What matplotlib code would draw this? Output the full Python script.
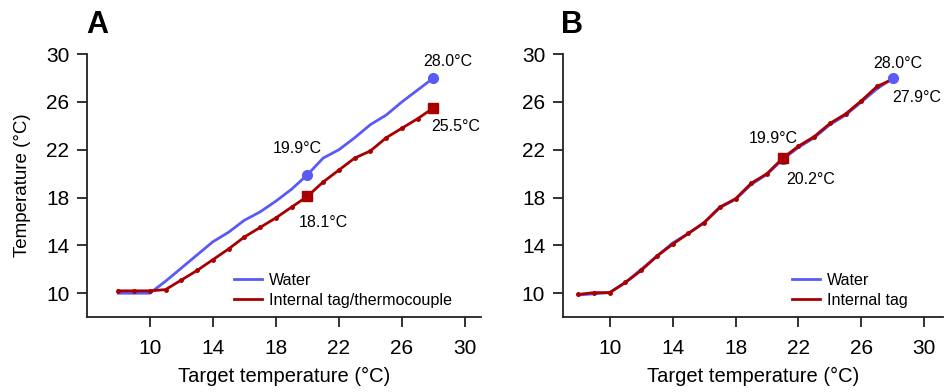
import numpy as np
import matplotlib
matplotlib.use('Agg')
import matplotlib.pyplot as plt

plt.rcParams['font.family'] = ['Liberation Sans', 'DejaVu Sans']

# target temperature (°C)
target = [8, 9, 10, 11, 12, 13, 14, 15, 16, 17, 18, 19, 20, 21, 22, 23, 24, 25, 26, 27, 28]

# panel A: water vs internal tag/thermocouple
water_a = [10.0, 10.0, 10.0, 11.0, 12.1, 13.2, 14.3, 15.1, 16.1, 16.8, 17.7, 18.7, 19.9,
           21.3, 22.0, 23.0, 24.1, 24.9, 26.0, 27.0, 28.0]
tag_a = [10.2, 10.2, 10.2, 10.3, 11.1, 11.9, 12.8, 13.7, 14.7, 15.5, 16.3, 17.2, 18.1,
         19.3, 20.3, 21.3, 21.9, 23.0, 23.8, 24.6, 25.5]

# panel B: water vs internal tag
water_b = [9.85, 9.95, 10.05, 10.9, 12.0, 13.1, 14.2, 15.0, 15.9, 17.15, 17.85, 19.1, 19.95,
           21.2, 22.2, 23.0, 24.1, 24.9, 26.0, 27.1, 28.0]
tag_b = [9.9, 10.05, 10.05, 10.9, 11.9, 13.1, 14.1, 15.0, 15.9, 17.2, 17.9, 19.2, 20.0,
         21.3, 22.3, 23.1, 24.2, 25.0, 26.1, 27.3, 27.9]

blue = '#5a5af6'
red = '#a80000'
ticks = [10, 14, 18, 22, 26, 30]

fig = plt.figure(figsize=(9.47, 3.92), dpi=100)
ax_a = fig.add_axes([0.0916, 0.191, 0.416, 0.671])
ax_b = fig.add_axes([0.594, 0.191, 0.402, 0.671])


def style(ax, xlim):
    ax.set_xlim(*xlim)
    ax.set_ylim(8, 30)
    ax.set_xticks(ticks)
    ax.set_yticks(ticks)
    for s in ['top', 'right']:
        ax.spines[s].set_visible(False)
    for s in ['left', 'bottom']:
        ax.spines[s].set_linewidth(1.3)
        ax.spines[s].set_color('#222222')
    ax.tick_params(length=7.5, width=1.3, labelsize=15, color='#222222')
    ax.tick_params(axis='y', pad=5)
    ax.tick_params(axis='x', pad=8)
    ax.set_xlabel('Target temperature (°C)', fontsize=14.5, labelpad=7)


def draw(ax, water, tag, idx, tag_label):
    ax.plot(target, water, color=blue, lw=2, zorder=2, label='Water')
    ax.plot(target, tag, color=red, lw=2, zorder=3, label=tag_label)
    ax.plot(target, tag, 'o', color=red, ms=2.5, zorder=3)
    for i in idx:
        ax.plot(target[i], water[i], 'o', color=blue, ms=7, zorder=4)


def note(ax, x, y, txt, dx, dy):
    ax.annotate(txt, xy=(x, y), xytext=(dx, dy), textcoords='offset pixels',
                ha='center', va='center', fontsize=11.5)


def legend(ax, xa):
    ax.legend(loc='lower right', bbox_to_anchor=(xa, -0.02), frameon=False, fontsize=11.6,
              handlelength=1.75, handletextpad=0.45, labelspacing=0.3)


# panel A
style(ax_a, (6, 31))
draw(ax_a, water_a, tag_a, [12, 20], 'Internal tag/thermocouple')
for i in [12, 20]:
    ax_a.plot(target[i], tag_a[i], 's', color=red, ms=7, zorder=5)
ax_a.set_ylabel('Temperature (°C)', fontsize=13.5, labelpad=11)
note(ax_a, target[20], water_a[20], '%.1f°C' % water_a[20], 14, 17)
note(ax_a, target[20], tag_a[20], '%.1f°C' % tag_a[20], 22, -19)
note(ax_a, target[12], water_a[12], '%.1f°C' % water_a[12], -10, 26)
note(ax_a, target[12], tag_a[12], '%.1f°C' % tag_a[12], 16, -26)
legend(ax_a, 0.964)
fig.text(0.103, 0.936, 'A', fontsize=22, fontweight='bold', ha='center', va='center')

# panel B
style(ax_b, (7, 31.2))
draw(ax_b, water_b, tag_b, [13, 20], 'Internal tag')
ax_b.plot(target[13], tag_b[13], 's', color=red, ms=7, zorder=5)
note(ax_b, target[20], water_b[20], '28.0°C', 5, 15)
note(ax_b, target[20], tag_b[20], '27.9°C', 24, -18)
note(ax_b, target[13], tag_b[13], '19.9°C', -9, 20)
note(ax_b, target[13], tag_b[13], '20.2°C', 28, -21)
legend(ax_b, 0.945)
fig.text(0.604, 0.936, 'B', fontsize=22, fontweight='bold', ha='center', va='center')

fig.savefig('out.png', dpi=100)
